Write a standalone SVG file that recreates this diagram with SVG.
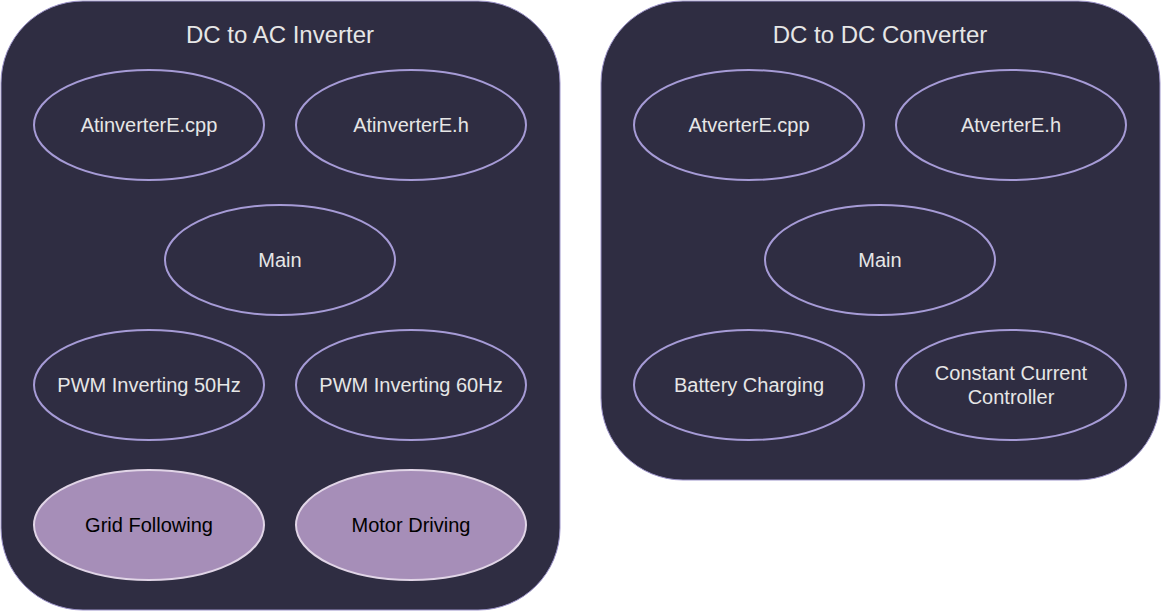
<svg xmlns="http://www.w3.org/2000/svg" width="1161" height="611" viewBox="0 0 1161 611">
<style>
.box{fill:#2F2D42;stroke:#9C93C9;stroke-width:1}
.n{fill:none;stroke:#A69BD6;stroke-width:2}
.f{fill:#A68EB8;stroke:#E1D5E7;stroke-width:2}
.t{font-family:"Liberation Sans",Arial,sans-serif;font-size:20px;fill:#E6E6E6;text-anchor:middle}
.tt{font-family:"Liberation Sans",Arial,sans-serif;font-size:24px;fill:#E6E6E6;text-anchor:middle}
.d{font-family:"Liberation Sans",Arial,sans-serif;font-size:20px;fill:#000;text-anchor:middle}
</style>
<rect width="1161" height="611" fill="#ffffff"/>
<g id="inverter">
<rect class="box" x="1" y="1" width="559" height="609" rx="82" ry="82"/>
<text class="tt" x="280" y="43">DC to AC Inverter</text>
</g>
<g id="converter">
<rect class="box" x="601" y="1" width="559" height="479" rx="82" ry="82"/>
<text class="tt" x="880" y="43">DC to DC Converter</text>
</g>
<g id="inv-cpp"><ellipse class="n" cx="149" cy="125" rx="115" ry="55"/><text class="t" x="149" y="132">AtinverterE.cpp</text></g>
<g id="inv-h"><ellipse class="n" cx="411" cy="125" rx="115" ry="55"/><text class="t" x="411" y="132">AtinverterE.h</text></g>
<g id="inv-main"><ellipse class="n" cx="280" cy="260" rx="115" ry="55"/><text class="t" x="280" y="267">Main</text></g>
<g id="pwm50"><ellipse class="n" cx="149" cy="385" rx="115" ry="55"/><text class="t" x="149" y="392">PWM Inverting 50Hz</text></g>
<g id="pwm60"><ellipse class="n" cx="411" cy="385" rx="115" ry="55"/><text class="t" x="411" y="392">PWM Inverting 60Hz</text></g>
<g id="grid"><ellipse class="f" cx="149" cy="525" rx="115" ry="55"/><text class="d" x="149" y="532">Grid Following</text></g>
<g id="motor"><ellipse class="f" cx="411" cy="525" rx="115" ry="55"/><text class="d" x="411" y="532">Motor Driving</text></g>
<g id="conv-cpp"><ellipse class="n" cx="749" cy="125" rx="115" ry="55"/><text class="t" x="749" y="132">AtverterE.cpp</text></g>
<g id="conv-h"><ellipse class="n" cx="1011" cy="125" rx="115" ry="55"/><text class="t" x="1011" y="132">AtverterE.h</text></g>
<g id="conv-main"><ellipse class="n" cx="880" cy="260" rx="115" ry="55"/><text class="t" x="880" y="267">Main</text></g>
<g id="battery"><ellipse class="n" cx="749" cy="385" rx="115" ry="55"/><text class="t" x="749" y="392">Battery Charging</text></g>
<g id="cc"><ellipse class="n" cx="1011" cy="385" rx="115" ry="55"/><text class="t" x="1011" y="380">Constant Current</text><text class="t" x="1011" y="404">Controller</text></g>
<g id="connectors"></g>
</svg>
